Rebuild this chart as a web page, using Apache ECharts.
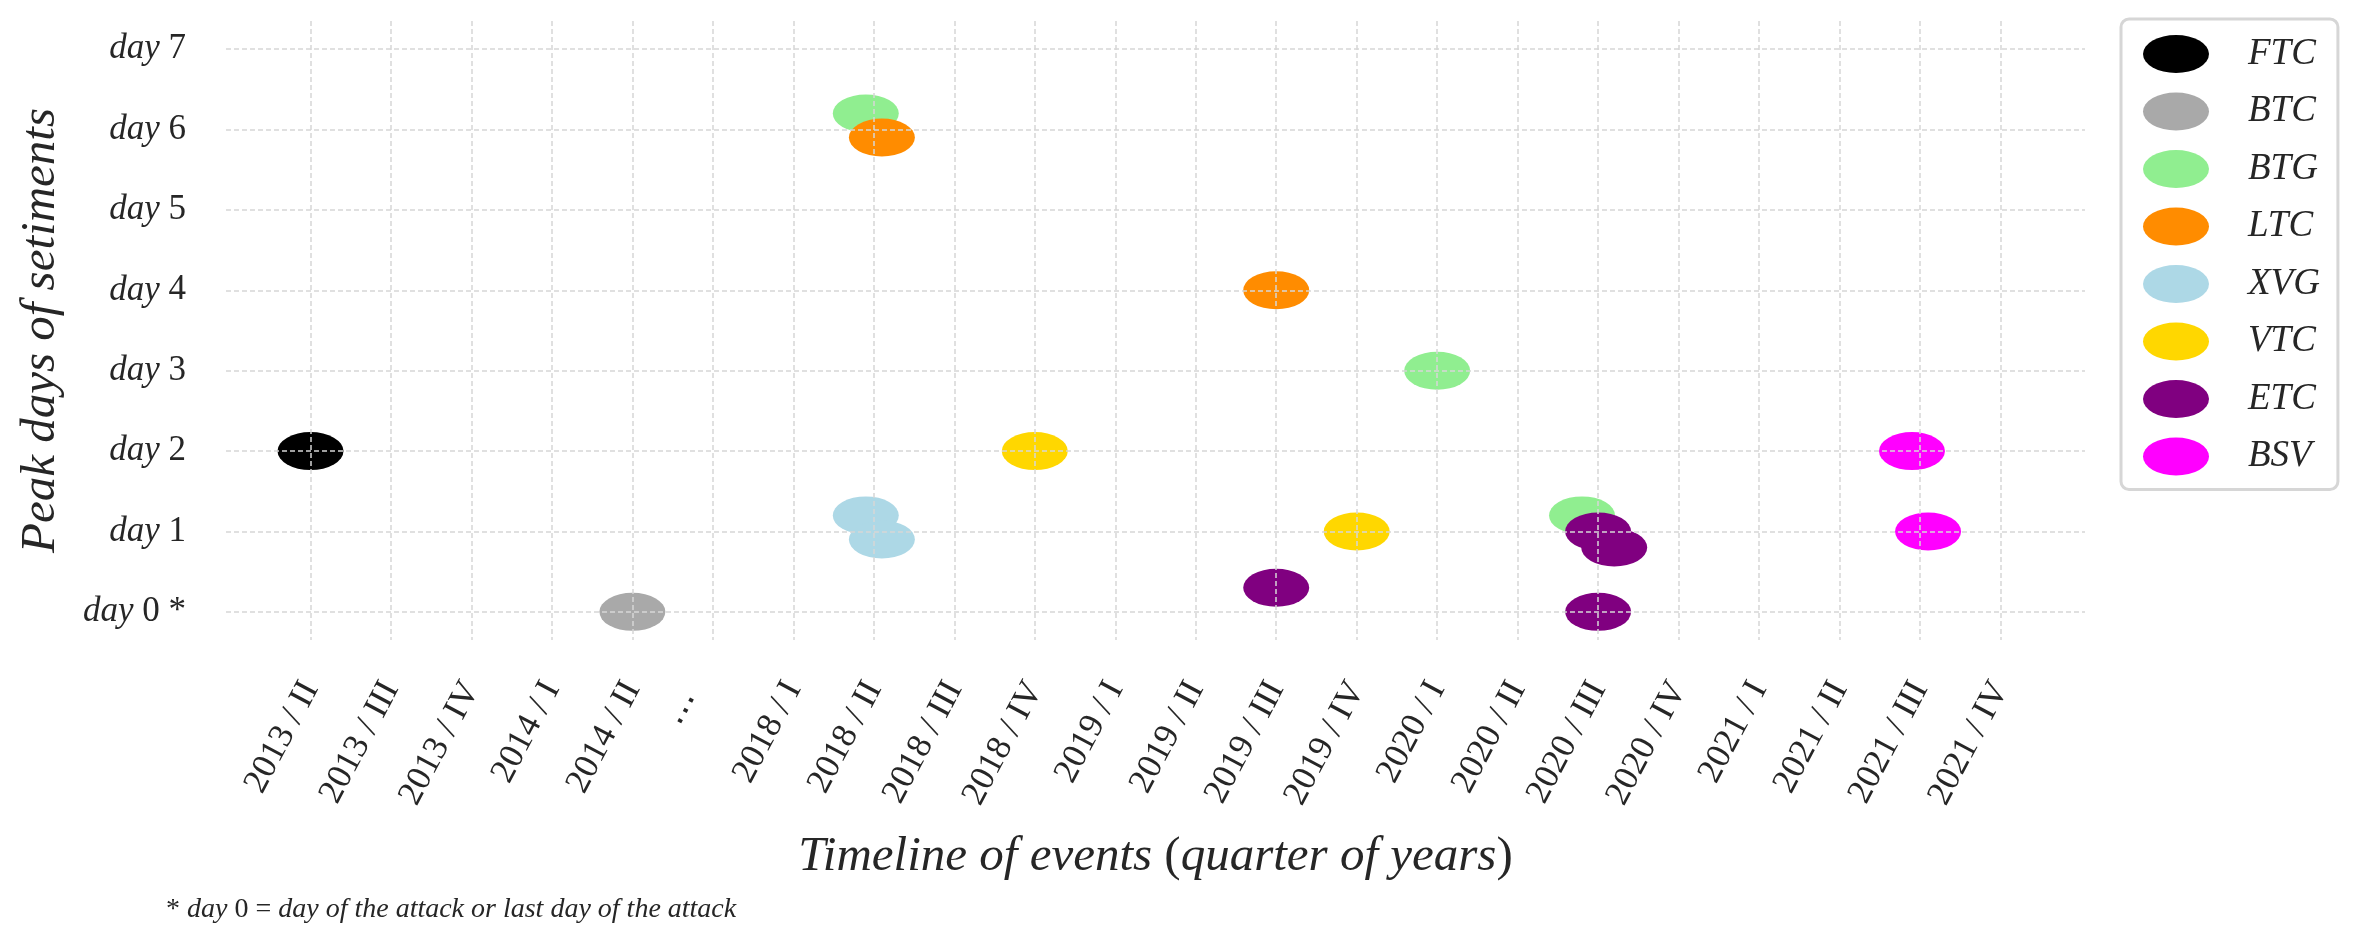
<!DOCTYPE html>
<html lang="en">
<head>
    <meta charset="UTF-8">
    <title>Peak days of setiments</title>
    <script src="https://cdn.jsdelivr.net/npm/echarts@6/dist/echarts.min.js"></script>
    <style>
        html, body { margin: 0; padding: 0; background: #fff; }
        #main { width: 2360px; height: 944px; }
    </style>
</head>
<body>
<div id="main"></div>
<script>
    // 横轴：季度标签（中间用省略号跳过 2014-2018）
    var quarterLabels = ['2013 / II', '2013 / III', '2013 / IV', '2014 / I', '2014 / II', '\u22ef',
        '2018 / I', '2018 / II', '2018 / III', '2018 / IV', '2019 / I', '2019 / II', '2019 / III',
        '2019 / IV', '2020 / I', '2020 / II', '2020 / III', '2020 / IV', '2021 / I', '2021 / II',
        '2021 / III', '2021 / IV'];
    var dayTicks = [0, 1, 2, 3, 4, 5, 6, 7];
    var coinNames = ['FTC', 'BTC', 'BTG', 'LTC', 'XVG', 'VTC', 'ETC', 'BSV'];

    // 每个币种的点：x = 季度序号，y = 峰值天数
    var ftcX = [0];
    var ftcY = [2];
    var btcX = [4];
    var btcY = [0];
    var btgX = [6.9, 14, 15.8];
    var btgY = [6.2, 3, 1.2];
    var ltcX = [7.1, 12];
    var ltcY = [5.9, 4];
    var xvgX = [6.9, 7.1];
    var xvgY = [1.2, 0.9];
    var vtcX = [9, 13];
    var vtcY = [2, 1];
    var etcX = [12, 16, 16.2, 16];
    var etcY = [0.3, 1, 0.8, 0];
    var bsvX = [19.9, 20.1];
    var bsvY = [2, 1];

    var coinColors = ['#000000', '#a9a9a9', '#90ee90', '#ff8c00', '#add8e6', '#ffd700', '#800080', '#ff00ff'];

    var serif = 'Liberation Serif';
    var textColor = '#262626';
    var gridColor = '#d6d6d6';
    // 椭圆标记
    var ellipse = 'path://M0,19A33,19,0,1,1,66,19A33,19,0,1,1,0,19Z';

    var allX = [ftcX, btcX, btgX, ltcX, xvgX, vtcX, etcX, bsvX];
    var allY = [ftcY, btcY, btgY, ltcY, xvgY, vtcY, etcY, bsvY];
    var quarterIndex = quarterLabels.map(function (l, i) { return i; });

    var series = [];
    for (var i = 0; i < coinNames.length; i++) {
        var pts = [];
        for (var j = 0; j < allX[i].length; j++) {
            pts.push([allX[i][j], allY[i][j]]);
        }
        series.push({
            name: coinNames[i],
            type: 'scatter',
            symbol: ellipse,
            symbolSize: [66, 38],
            itemStyle: { color: coinColors[i], opacity: 1 },
            emphasis: { disabled: true },
            data: pts
        });
    }

    function richStyles(size) {
        return {
            i: { fontFamily: serif, fontStyle: 'italic', fontSize: size, color: textColor },
            n: { fontFamily: serif, fontStyle: 'normal', fontSize: size, color: textColor }
        };
    }

    var myChart = echarts.init(document.getElementById('main'), null, { renderer: 'canvas' });
    var option = {
        backgroundColor: '#ffffff',
        animation: false,
        color: coinColors,
        grid: {
            left: 226, right: 275, top: 21, bottom: 304,
            containLabel: false,
            outerBoundsMode: 'none'
        },
        xAxis: {
            type: 'value',
            min: -1.05,
            max: 22.05,
            z: 3,
            axisLine: { show: false },
            axisTick: { show: false, customValues: quarterIndex },
            axisLabel: {
                customValues: quarterIndex,
                rotate: 62,
                margin: 44,
                fontFamily: serif,
                fontSize: 35,
                color: textColor,
                formatter: function (v) {
                    var s = quarterLabels[v];
                    // 省略号稍微往左下挪一点
                    return s === '\u22ef' ? '{e|' + s + '}' : s;
                },
                rich: {
                    e: { fontFamily: serif, fontSize: 35, color: textColor, padding: [0, 19, 20, 0] }
                }
            },
            splitLine: { show: true, lineStyle: { color: gridColor, width: 1.5, type: [5, 3] } },
            name: '{i|Timeline of events }{n|(}{i|quarter of years}{n|)}',
            nameLocation: 'middle',
            nameGap: 193,
            nameMoveOverlap: false,
            nameTextStyle: { rich: richStyles(49) }
        },
        yAxis: {
            type: 'value',
            min: -0.35,
            max: 7.35,
            z: 3,
            axisLine: { show: false },
            axisTick: { show: false, customValues: dayTicks },
            axisLabel: {
                customValues: dayTicks,
                margin: 40,
                align: 'right',
                formatter: function (v) {
                    return v === 0 ? '{i|day }{n|0 *}' : '{i|day }{n|' + v + '}';
                },
                rich: richStyles(35)
            },
            splitLine: { show: true, lineStyle: { color: gridColor, width: 1.5, type: [5, 3] } },
            name: 'Peak days of setiments',
            nameLocation: 'middle',
            nameGap: 160,
            nameMoveOverlap: false,
            nameTextStyle: { fontFamily: serif, fontStyle: 'italic', fontSize: 49, color: textColor }
        },
        legend: {
            orient: 'vertical',
            left: 2121,
            top: 19,
            data: coinNames,
            icon: ellipse,
            symbolKeepAspect: false,
            itemWidth: 66,
            itemHeight: 38,
            itemGap: 19.5,
            padding: [16, 18, 14, 22],
            backgroundColor: '#ffffff',
            borderColor: gridColor,
            borderWidth: 3,
            borderRadius: 8,
            selectedMode: false,
            textStyle: {
                fontFamily: serif,
                fontStyle: 'italic',
                fontSize: 37,
                lineHeight: 38,
                color: textColor,
                padding: [0, 0, 0, 34]
            }
        },
        graphic: [{
            type: 'text',
            left: 166,
            top: 896,
            style: {
                text: '{n|* }{i|day }{n|0 = }{i|day of the attack or last day of the attack}',
                rich: {
                    i: { fontFamily: serif, fontStyle: 'italic', fontSize: 28, fill: textColor },
                    n: { fontFamily: serif, fontStyle: 'normal', fontSize: 28, fill: textColor }
                }
            }
        }],
        series: series
    };
    myChart.setOption(option);
</script>
</body>
</html>
